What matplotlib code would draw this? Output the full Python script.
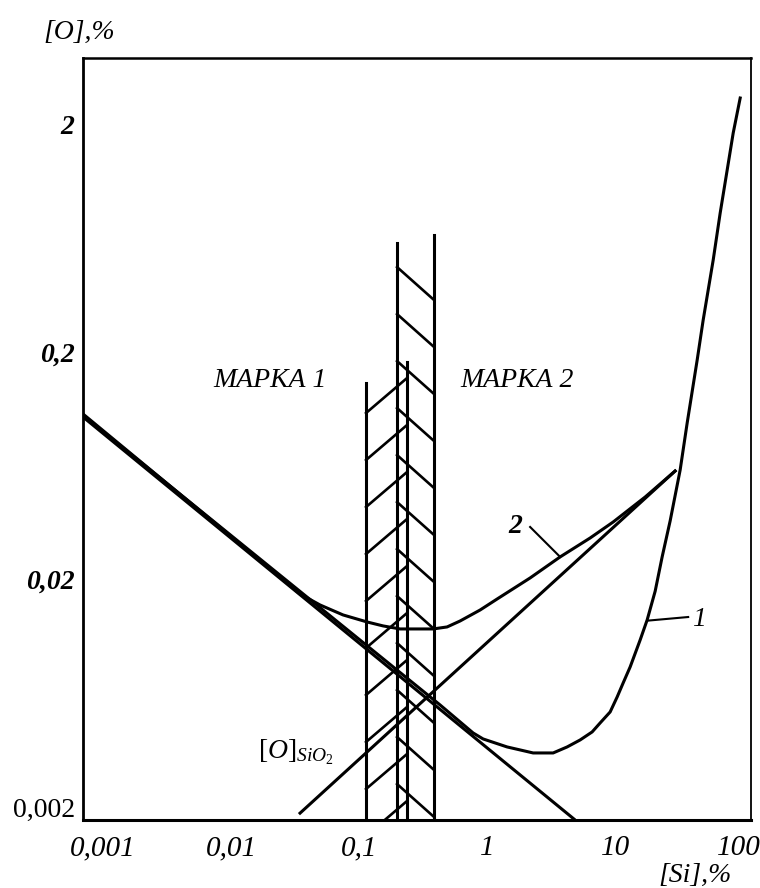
import numpy as np
import matplotlib
matplotlib.use("Agg")
import matplotlib.pyplot as plt
import matplotlib.transforms as mtransforms

plt.rcParams['font.family'] = ['Liberation Serif', 'DejaVu Serif']
plt.rcParams['mathtext.fontset'] = 'custom'
plt.rcParams['mathtext.it'] = 'Liberation Serif:italic'
plt.rcParams['mathtext.rm'] = 'Liberation Serif'

# deoxidation line (straight) and [O]SiO2 line
si_deox = [0.000698, 4.87]
o_deox = [0.1039, 0.001754]
si_sio2 = [0.0346, 29.4]
o_sio2 = [0.00188, 0.0601]

# curve 1
si_c1 = [0.000698, 0.4293, 0.7774, 0.9306, 1.433, 1.811, 2.288, 3.279, 4.217,
         5.33, 6.611, 7.636, 9.14, 10.37, 11.55, 13.10, 15.68, 17.78, 20.54,
         23.29, 26.90, 32.19, 36.52, 43.72, 48.70, 58.31, 66.12, 74.99,
         83.55, 94.76]
o_c1 = [0.1055, 0.005623, 0.004235, 0.003985, 0.003675, 0.003565, 0.003458,
        0.003458, 0.003675, 0.003945, 0.004278, 0.004687, 0.005238, 0.006098,
        0.007026, 0.008264, 0.010859, 0.013296, 0.0178, 0.0252, 0.0363,
        0.060728, 0.09775, 0.185, 0.2773, 0.509, 0.8198, 1.267,
        1.8425, 2.627]

# curve 2
si_c2 = [0.000698, 0.02415, 0.0346, 0.04955, 0.075, 0.1155, 0.154, 0.2091,
         0.3786, 0.487, 0.6152, 0.882, 1.197, 2.168, 3.718, 6.378, 9.65,
         17.16, 29.4]
o_c2 = [0.1071, 0.02056, 0.0173, 0.01548, 0.01399, 0.01303, 0.01252, 0.01214,
        0.01214, 0.01239, 0.01316, 0.01471, 0.01644, 0.02035, 0.02518, 0.0305,
        0.03586, 0.0462, 0.0601]

# grade bands (МАРКА 1, МАРКА 2): Si limits and tops of boundary lines
band1_si = [0.1134, 0.2371]
band1_top = [0.1466, 0.1813]
band2_si = [0.1981, 0.3855]
band2_top = [0.6048, 0.6558]

y_ticks = [0.002, 0.02, 0.2, 2]
y_labels = ['0,002', '0,02', '0,2', '2']
x_ticks = [0.001, 0.01, 0.1, 1, 10, 100]
x_labels = ['0,001', '0,01', '0,1', '1', '10', '100']

fig = plt.figure(figsize=(7.6, 8.88), dpi=100)
ax = fig.add_axes([0.1092, 0.0766, 0.8789, 0.8581])
ax.set_xscale('log')
ax.set_yscale('log')
ax.set_xlim(0.000698, 115)
ax.set_ylim(0.001754, 3.94)

lw = 2.2
ax.plot(si_deox, o_deox, color='black', lw=lw, solid_capstyle='butt')
ax.plot(si_sio2, o_sio2, color='black', lw=lw)
ax.plot(si_c1, o_c1, color='black', lw=lw, solid_joinstyle='round')
ax.plot(si_c2, o_c2, color='black', lw=lw, solid_joinstyle='round')

# band boundary lines
ymin = ax.get_ylim()[0]
for xs, tops in [(band1_si, band1_top), (band2_si, band2_top)]:
    for x, t in zip(xs, tops):
        ax.plot([x, x], [ymin, t], color='black', lw=lw)

# sparse hand-style hatching inside the bands
step = 10 ** -0.2067
y = 10 ** -0.966
while y > ymin / 1.5:
    ax.plot(band1_si, [y, y * 10 ** 0.154], color='black', lw=1.9)
    y *= step
y = 0.474
while y > ymin / 1.5:
    ax.plot(band2_si, [y, y * 10 ** -0.145], color='black', lw=1.9)
    y *= step

for side, w in [('left', 2.0), ('bottom', 2.2), ('top', 1.8), ('right', 1.3)]:
    ax.spines[side].set_linewidth(w)

ax.set_yticks(y_ticks)
ax.set_yticklabels(y_labels)
ax.set_xticks(x_ticks)
ax.set_xticklabels(x_labels)
ax.minorticks_off()
ax.tick_params(axis='both', length=0)
ax.tick_params(axis='y', pad=6)
ax.tick_params(axis='x', pad=11)
for lab in ax.get_yticklabels():
    lab.set_fontsize(20)
    lab.set_fontstyle('italic')
    lab.set_fontweight('bold')
for lab in ax.get_xticklabels():
    lab.set_fontsize(21)
    lab.set_fontstyle('italic')
ax.get_yticklabels()[0].set_fontstyle('normal')
ax.get_yticklabels()[0].set_fontweight('normal')
last = ax.get_xticklabels()[-1]
last.set_transform(last.get_transform() +
                   mtransforms.ScaledTranslation(-4 / 100, 0, fig.dpi_scale_trans))

fig.text(0.104, 0.963, '[O],%', fontsize=20, style='italic', ha='center', va='center')
fig.text(0.9145, 0.0146, '[Si],%', fontsize=20, style='italic', ha='center', va='center')

ax.text(0.0202, 0.151, 'МАРКА 1', fontsize=20, style='italic', ha='center', va='center')
ax.text(1.715, 0.151, 'МАРКА 2', fontsize=20, style='italic', ha='center', va='center')
ax.text(0.01626, 0.00349, r'$\mathit{[O]}_{\mathit{SiO_2}}$', fontsize=20,
        ha='left', va='center')

ax.text(1.654, 0.0343, '2', fontsize=20, style='italic', fontweight='bold',
        ha='center', va='center')
ax.plot([2.168, 3.718], [0.0341, 0.02518], color='black', lw=1.5)
ax.text(39.5, 0.0133, '1', fontsize=20, style='italic', ha='left', va='center')
ax.plot([17.78, 37.18], [0.0132, 0.0137], color='black', lw=1.5)

fig.savefig('out.png', dpi=100)
